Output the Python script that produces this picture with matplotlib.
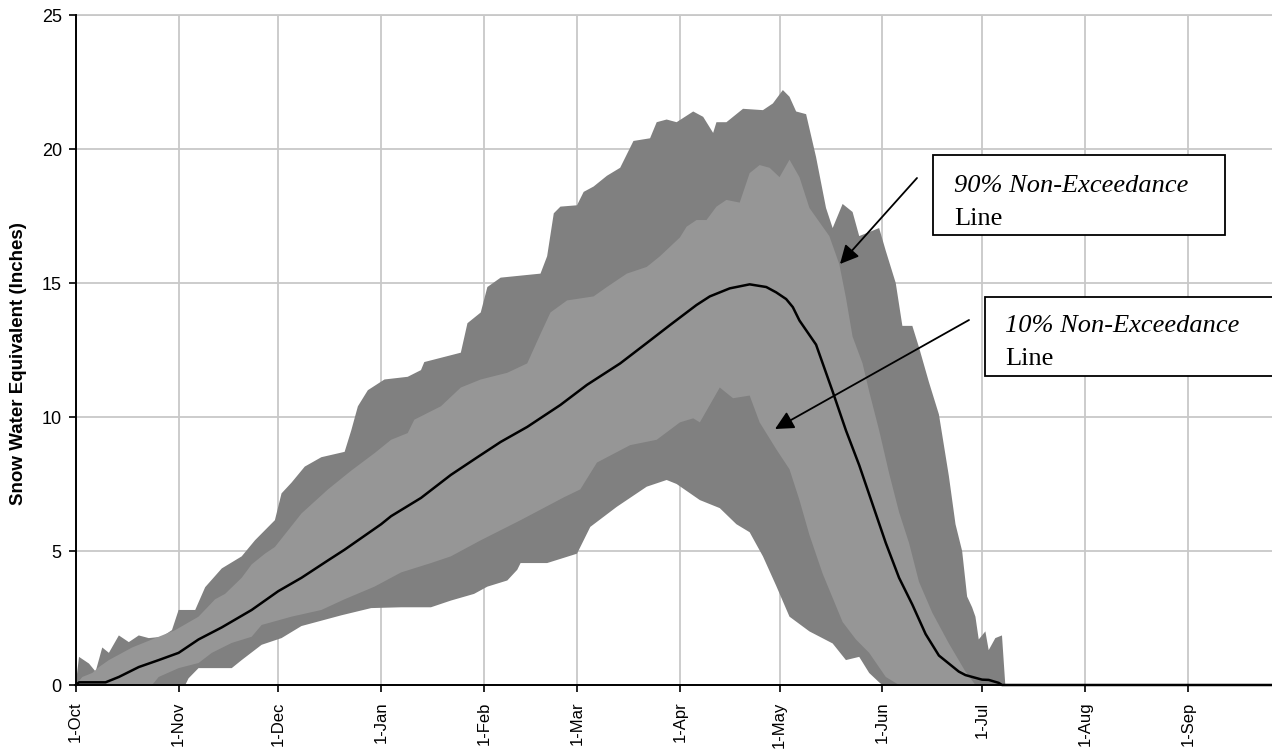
import numpy as np
import matplotlib.pyplot as plt
from matplotlib.patches import Rectangle

# =========================
# Data (day of water year, 0 = 1-Oct), SWE in inches
# =========================
month_days = [0, 31, 61, 92, 123, 151, 182, 212, 243, 273, 304, 335]
month_labels = ["1-Oct", "1-Nov", "1-Dec", "1-Jan", "1-Feb", "1-Mar",
                "1-Apr", "1-May", "1-Jun", "1-Jul", "1-Aug", "1-Sep"]

max_days = [0, 1, 4, 6, 8, 10, 13, 16, 19, 22, 26, 29, 31, 36, 39, 44, 50, 54, 60, 62,
            65, 69, 74, 81, 83, 85, 88, 93, 100, 104, 105, 116, 118, 122, 124, 128, 140,
            142, 144, 146, 151, 153, 156, 160, 164, 168, 173, 175, 178, 181, 186, 189,
            192, 193, 196, 201, 207, 210, 213, 215, 217, 220, 223, 226, 228, 231, 234,
            236, 242, 244, 247, 249, 252, 254, 257, 260, 263, 265, 267, 268.5, 270, 271,
            272, 274, 275, 277, 279, 280, 365]
max_swe = [0, 1.05, 0.8, 0.5, 1.4, 1.2, 1.85, 1.6, 1.85, 1.75, 1.8, 2.05, 2.8, 2.8, 3.65,
           4.35, 4.8, 5.4, 6.15, 7.15, 7.55, 8.15, 8.5, 8.7, 9.5, 10.4, 11.0, 11.4, 11.5,
           11.75, 12.05, 12.4, 13.5, 13.9, 14.85, 15.2, 15.35, 16.0, 17.6, 17.85, 17.9,
           18.4, 18.6, 19.0, 19.3, 20.3, 20.4, 21.0, 21.1, 21.0, 21.4, 21.2, 20.6, 21.0,
           21.0, 21.5, 21.45, 21.7, 22.2, 21.95, 21.4, 21.3, 19.7, 17.8, 17.05, 17.95,
           17.65, 16.75, 17.05, 16.2, 15.0, 13.4, 13.4, 12.6, 11.3, 10.1, 7.8, 6.0, 5.0,
           3.3, 2.9, 2.55, 1.7, 2.0, 1.3, 1.75, 1.85, 0, 0]

p90_days = [0, 2, 5, 7, 10, 17, 25, 30, 37, 42, 45, 50, 53, 57, 60, 68, 76, 83, 90, 95,
            100, 102, 110, 116, 122, 130, 136, 140, 143, 148, 156, 160, 166, 172, 176,
            182, 184, 187, 190, 193, 196, 200, 203, 206, 209, 212, 215, 218, 221, 227,
            230, 232, 234, 237, 239, 242, 245, 248, 251, 254, 258, 263, 268, 271, 365]
p90_swe = [0, 0.3, 0.45, 0.67, 0.93, 1.4, 1.8, 2.05, 2.55, 3.2, 3.4, 4.0, 4.5, 4.9, 5.15,
           6.4, 7.3, 8.0, 8.65, 9.15, 9.4, 9.9, 10.4, 11.1, 11.4, 11.65, 12.0, 13.1, 13.9,
           14.35, 14.5, 14.85, 15.35, 15.6, 16.0, 16.7, 17.1, 17.35, 17.35, 17.85, 18.1,
           18.0, 19.1, 19.4, 19.3, 18.95, 19.6, 18.95, 17.8, 16.75, 15.7, 14.45, 13.0,
           12.0, 10.95, 9.5, 7.9, 6.45, 5.3, 3.85, 2.7, 1.55, 0.5, 0, 0]

med_days = [0, 1, 9, 13, 19, 25, 31, 37, 44, 53, 61, 68, 76, 81, 92, 95, 104, 113, 121,
            128, 136, 146, 154, 164, 172, 179, 187, 191, 197, 203, 208, 211, 214, 216,
            218, 223, 228, 232, 236, 240, 244, 248, 252, 256, 260, 263, 266, 268, 273,
            275, 278, 279, 365]
med_swe = [0, 0.1, 0.1, 0.3, 0.67, 0.93, 1.2, 1.7, 2.15, 2.8, 3.5, 4.0, 4.65, 5.05, 6.0,
           6.3, 6.98, 7.84, 8.5, 9.07, 9.63, 10.45, 11.2, 12.0, 12.76, 13.43, 14.18, 14.5,
           14.8, 14.95, 14.85, 14.65, 14.4, 14.1, 13.6, 12.7, 10.95, 9.5, 8.2, 6.75, 5.3,
           4.0, 3.0, 1.9, 1.1, 0.8, 0.5, 0.37, 0.2, 0.19, 0.08, 0, 0]

p10_days = [0, 23, 25, 31, 37, 41, 47, 53, 56, 65, 74, 81, 90, 98, 107, 113, 122, 134,
            147, 152, 157, 167, 175, 182, 186, 188, 194, 198, 203, 206, 211, 215, 218,
            221, 225, 228, 231, 235, 239, 244, 248, 365]
p10_swe = [0, 0, 0.3, 0.63, 0.82, 1.2, 1.57, 1.8, 2.24, 2.55, 2.8, 3.2, 3.67, 4.2, 4.55,
           4.8, 5.4, 6.15, 7.0, 7.3, 8.3, 8.95, 9.15, 9.8, 9.95, 9.8, 11.1, 10.7, 10.8,
           9.8, 8.8, 8.05, 6.9, 5.6, 4.15, 3.25, 2.35, 1.7, 1.2, 0.3, 0, 0]

min_days = [0, 33, 34, 37, 47, 50, 56, 62, 68, 74, 80, 89, 98, 107, 113, 120, 124, 130,
            133, 134, 142, 151, 155, 163, 172, 178, 181, 188, 194, 199, 203, 207, 211,
            215, 221, 228, 232, 236, 239, 242, 243, 365]
min_swe = [0, 0, 0.25, 0.63, 0.63, 0.93, 1.5, 1.75, 2.2, 2.4, 2.6, 2.87, 2.9, 2.9, 3.15,
           3.4, 3.67, 3.9, 4.3, 4.55, 4.55, 4.9, 5.9, 6.65, 7.4, 7.65, 7.5, 6.9, 6.6, 6.0,
           5.7, 4.8, 3.7, 2.55, 2.0, 1.55, 0.93, 1.05, 0.45, 0.1, 0, 0]

# =========================
# Figure
# =========================
W, H = 1272, 751
fig = plt.figure(figsize=(W / 100, H / 100), dpi=100)
ax = fig.add_axes([75.7 / W, 66 / H, 1 - 75.7 / W, 670 / H])

DARK = "#808080"
LIGHT = "#969696"
GRID = "#c8c8c8"

# envelope (min..max) then 10-90% band on top
ax.fill(np.concatenate([max_days, min_days[::-1]]),
        np.concatenate([max_swe, min_swe[::-1]]), color=DARK, lw=0, zorder=2)
ax.fill(np.concatenate([p90_days, p10_days[::-1]]),
        np.concatenate([p90_swe, p10_swe[::-1]]), color=LIGHT, lw=0, zorder=3)
ax.plot(med_days, med_swe, color="black", lw=1.8, zorder=4, clip_on=False)

ax.set_xlim(0, (W - 75.7) / 3.32)
ax.set_ylim(0, 25)
ax.set_xticks(month_days)
ax.set_xticklabels(month_labels, rotation=90, fontsize=12, family="Liberation Sans")
ax.set_yticks([0, 5, 10, 15, 20, 25])
ax.set_yticklabels(["0", "5", "10", "15", "20", "25"], fontsize=13, family="Liberation Sans")
ax.tick_params(axis="both", direction="out", length=5, width=1.2, color="black")
ax.tick_params(axis="x", pad=7)
ax.tick_params(axis="y", pad=5)

ax.grid(True, color=GRID, lw=1.3, zorder=0)
ax.set_axisbelow(True)
ax.spines["right"].set_visible(False)
ax.spines["top"].set_color(GRID)
ax.spines["top"].set_linewidth(1.3)
ax.spines["left"].set_linewidth(1.4)
ax.spines["bottom"].set_linewidth(1.4)
ax.spines["left"].set_zorder(5)
ax.spines["bottom"].set_zorder(5)

ax.set_ylabel("Snow Water Equivalent (Inches)", fontsize=13.5, fontweight="bold",
              family="Liberation Sans")
ax.yaxis.set_label_coords(-0.041, 0.48)


# =========================
# Annotation boxes
# =========================
def fx(px):
    return px / W


def fy(py):
    return 1 - py / H


def note_box(x0, y0, x1, y1, tx, label, b1, b2):
    fig.patches.append(Rectangle((fx(x0), fy(y1)), fx(x1) - fx(x0), fy(y0) - fy(y1),
                                 transform=fig.transFigure, facecolor="white",
                                 edgecolor="black", lw=1.3, zorder=10))
    fig.text(fx(tx), fy(b1), label, fontsize=19, style="italic",
             family="Liberation Serif", va="baseline", zorder=11)
    fig.text(fx(tx), fy(b2), "Line", fontsize=19, family="Liberation Serif",
             va="baseline", zorder=11)


note_box(933, 155, 1225, 235, 954, "90% Non-Exceedance", 192, 225)
note_box(985, 297, 1300, 376, 1005, "10% Non-Exceedance", 332, 365)

for tail, tip in [((917, 178), (840, 264)), ((969, 320), (775, 429))]:
    ax.annotate("", xy=(fx(tip[0]), fy(tip[1])), xycoords="figure fraction",
                xytext=(fx(tail[0]), fy(tail[1])), textcoords="figure fraction",
                arrowprops=dict(arrowstyle="-|>", color="black", lw=1.3,
                                mutation_scale=28, shrinkA=0, shrinkB=0),
                zorder=12)

plt.savefig("out.png", dpi=100)
